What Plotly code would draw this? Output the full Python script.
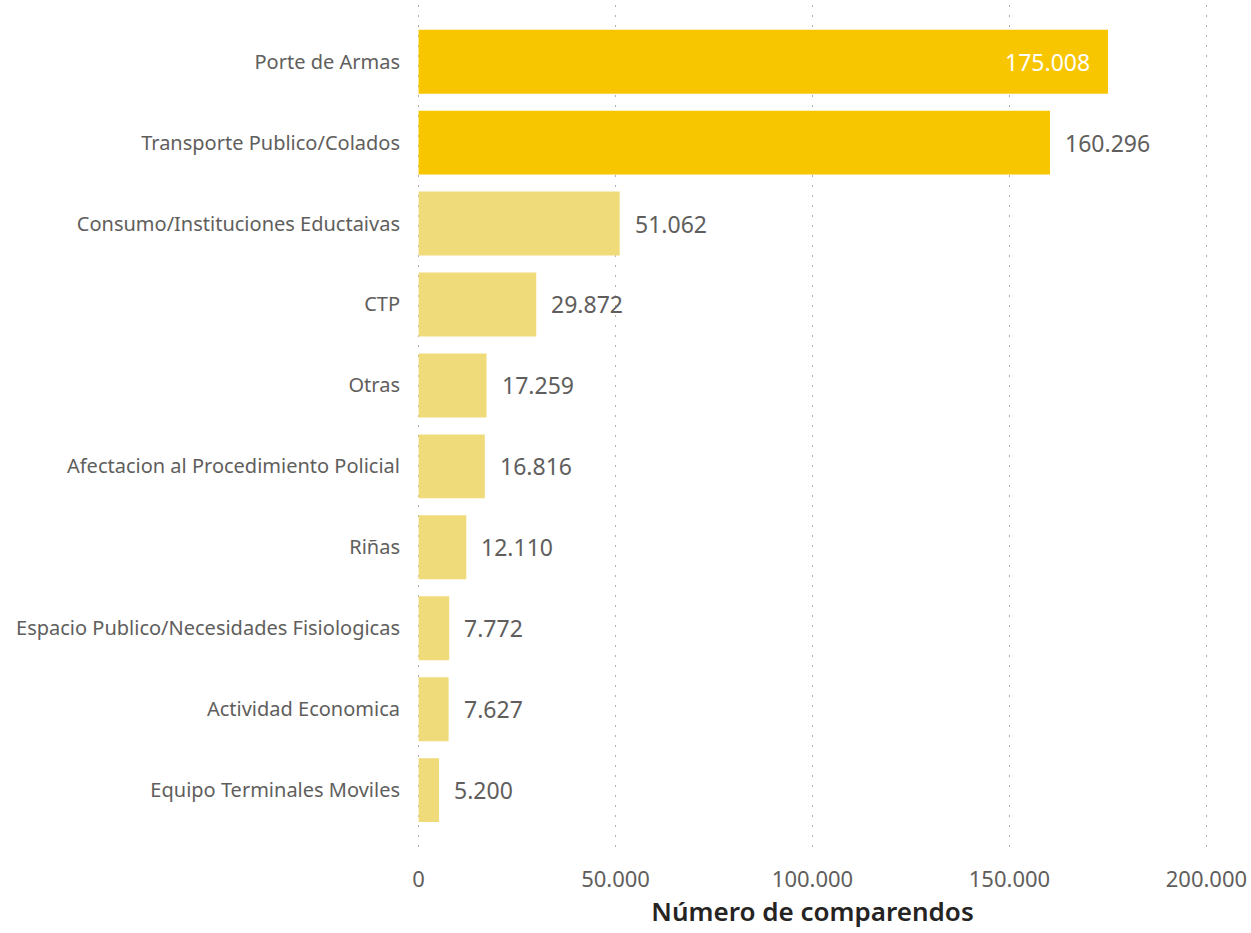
import plotly.graph_objects as go

categories = [
    "Porte de Armas",
    "Transporte Publico/Colados",
    "Consumo/Instituciones Eductaivas",
    "CTP",
    "Otras",
    "Afectacion al Procedimiento Policial",
    "Riñas",
    "Espacio Publico/Necesidades Fisiologicas",
    "Actividad Economica",
    "Equipo Terminales Moviles",
]
values = [175008, 160296, 51062, 29872, 17259, 16816, 12110, 7772, 7627, 5200]
highlight = [True, True, False, False, False, False, False, False, False, False]
label_inside = [True, False, False, False, False, False, False, False, False, False]
x_ticks = [0, 50000, 100000, 150000, 200000]

colors = ["#F8C600" if h else "#F0DB7A" for h in highlight]


def fmt(v):
    return f"{v:,}".replace(",", ".")


fig = go.Figure(go.Bar(
    x=values,
    y=categories,
    orientation="h",
    marker=dict(color=colors, line=dict(width=0)),
    width=0.79,
    hoverinfo="skip",
))

for cat, v, inside in zip(categories, values, label_inside):
    fig.add_annotation(
        x=v, y=cat, xref="x", yref="y",
        text=fmt(v), showarrow=False,
        xanchor="right" if inside else "left",
        xshift=-16 if inside else 13,
        font=dict(family="Noto Sans", size=23,
                  color="#FFFFFF" if inside else "#605E5C"),
    )

fig.update_layout(
    width=1251,
    height=933,
    margin=dict(l=417, r=43, t=5, b=83),
    plot_bgcolor="white",
    paper_bgcolor="white",
    separators=",.",
    showlegend=False,
)

fig.update_xaxes(
    range=[-400, 200400],
    tickvals=x_ticks,
    tickformat=",",
    showgrid=True,
    gridcolor="#B3B0AD",
    griddash="2px,8px",
    gridwidth=1,
    zeroline=False,
    showline=False,
    ticks="",
    tickfont=dict(family="Noto Sans", size=22, color="#605E5C"),
    ticklabelstandoff=14,
    title=dict(text="Número de comparendos",
               font=dict(family="Noto Sans", size=26, color="#252423", weight=600),
               standoff=10),
)

fig.update_yaxes(
    autorange=False,
    range=[9.74, -0.70],
    showgrid=False,
    zeroline=False,
    showline=False,
    ticks="",
    tickfont=dict(family="Noto Sans", size=20, color="#605E5C"),
    ticklabelstandoff=16,
)

fig.write_html(
    "out.html",
    config={"displayModeBar": False},
    post_script="document.body.style.margin='0';document.body.style.overflow='hidden';",
)
